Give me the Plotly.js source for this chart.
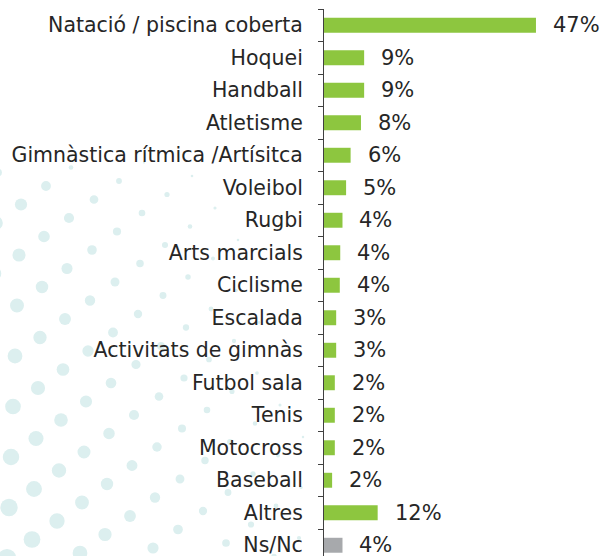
<!DOCTYPE html>
<html>
<head>
<meta charset="utf-8">
<script src="https://cdn.plot.ly/plotly-3.0.1.min.js"></script>
<style>html,body{margin:0;padding:0;background:#fff;}#chart{width:602px;height:556px;}</style>
</head>
<body>
<div id="chart"></div>
<script>
const categories = ["Natació / piscina coberta","Hoquei","Handball","Atletisme","Gimnàstica rítmica /Artísitca","Voleibol","Rugbi","Arts marcials","Ciclisme","Escalada","Activitats de gimnàs","Futbol sala","Tenis","Motocross","Baseball","Altres","Ns/Nc"];
const values = [47, 8.9, 8.9, 8.2, 5.9, 4.9, 4.1, 3.6, 3.5, 2.7, 2.7, 2.4, 2.4, 2.4, 1.8, 11.9, 4.1];
const valueLabels = ["47%","9%","9%","8%","6%","5%","4%","4%","4%","3%","3%","2%","2%","2%","2%","12%","4%"];
const barColors = categories.map((c, i) => i === categories.length - 1 ? "#a7a9ac" : "#8dc63f");

const L = 324, T = 9, W = 602 - L, H = 556 - T;

// decorative halftone dots (background)
const shapes = [];
const ox = 69, oy = 218, v1 = [-25, 18.5], v2 = [23, 32];
for (let i = -30; i <= 30; i++) {
  for (let j = -30; j <= 30; j++) {
    const X = ox + i * v1[0] + j * v2[0];
    const Y = oy + i * v1[1] + j * v2[1];
    if (X < -10 || X > 305 || Y < 158 || Y > 570) continue;
    let d = 13 + 0.015 * (Y - 190) - 0.047 * X;
    d *= Math.min(1, (Y - 145) / 45);
    if (d < 2) continue;
    const r = d / 2;
    shapes.push({
      type: "circle", xref: "paper", yref: "paper", layer: "below",
      x0: (X - r - L) / W, x1: (X + r - L) / W,
      y0: 1 - (Y + r - T) / H, y1: 1 - (Y - r - T) / H,
      fillcolor: "#dcefef", line: {width: 0}
    });
  }
}

const annotations = values.map((v, i) => ({
  x: v, y: categories[i], xref: "x", yref: "y",
  text: valueLabels[i], showarrow: false, xanchor: "left", yanchor: "middle",
  xshift: 15, yshift: 0,
  font: {family: "DejaVu Sans", size: 21, color: "#262626"}
}));

const trace = {
  type: "bar", orientation: "h",
  x: values, y: categories,
  marker: {color: barColors},
  width: 0.46, hoverinfo: "none"
};

const layout = {
  width: 602, height: 556,
  margin: {l: L, r: 0, t: T, b: 0, pad: 0},
  paper_bgcolor: "#ffffff", plot_bgcolor: "rgba(0,0,0,0)",
  showlegend: false,
  xaxis: {range: [0, W / 4.51], showgrid: false, zeroline: false, showticklabels: false, ticks: "", showline: false, fixedrange: true},
  yaxis: {
    type: "category", range: [-0.5 + H / 32.5, -0.5],
    showgrid: false, zeroline: false,
    showline: true, linecolor: "#404040", linewidth: 1,
    ticks: "outside", tickson: "boundaries", ticklen: 5, tickcolor: "#404040", tickwidth: 1,
    ticklabelstandoff: 16,
    tickfont: {family: "DejaVu Sans", size: 20.5, color: "#262626"},
    fixedrange: true
  },
  shapes: shapes,
  annotations: annotations
};

Plotly.newPlot("chart", [trace], layout, {displayModeBar: false, staticPlot: true});
</script>
</body>
</html>
